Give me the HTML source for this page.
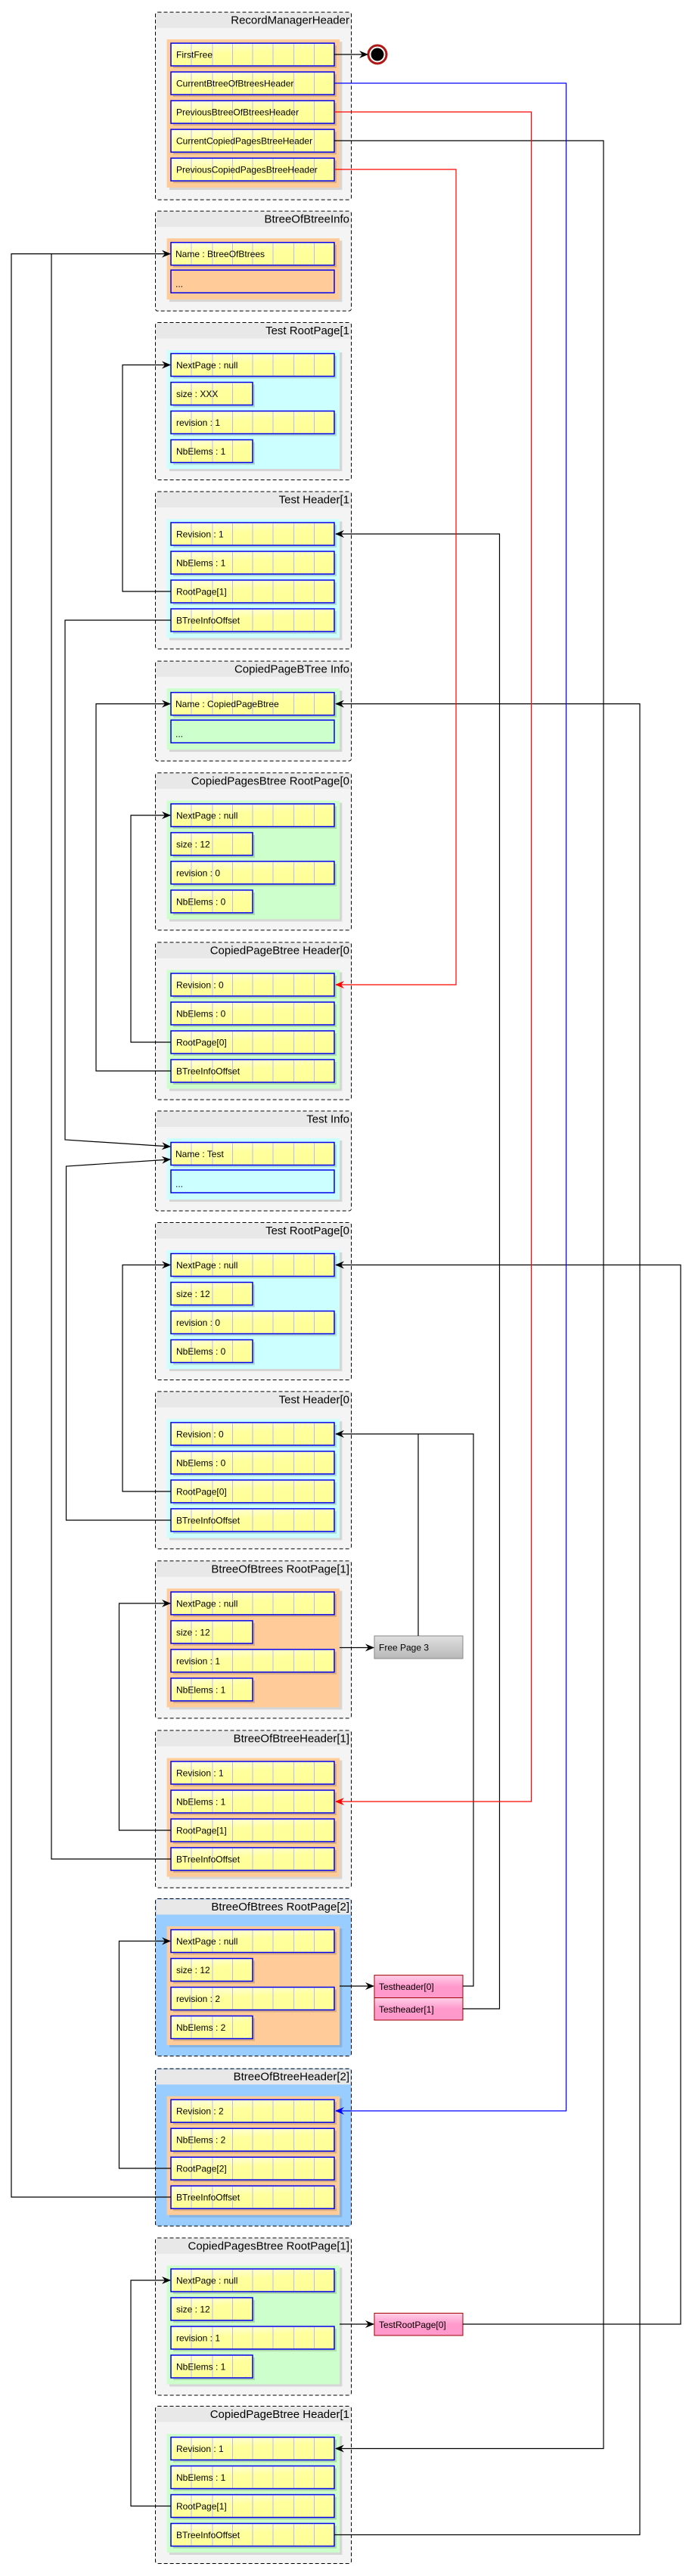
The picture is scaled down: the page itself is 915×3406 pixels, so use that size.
<!DOCTYPE html>
<html><head><meta charset="utf-8"><style>html,body{margin:0;padding:0;background:#fff}svg{display:block}text{font-family:"Liberation Sans Narrow","Liberation Sans",sans-serif}</style></head><body>
<svg width="915" height="3406" viewBox="0 0 915 3406" xmlns="http://www.w3.org/2000/svg">
<defs>
<linearGradient id="yg" x1="0" y1="0" x2="0.3" y2="1"><stop offset="0" stop-color="#ffffe6"/><stop offset="0.5" stop-color="#ffff9c"/><stop offset="1" stop-color="#ffff99"/></linearGradient>
<linearGradient id="gg" x1="0" y1="0" x2="0" y2="1"><stop offset="0" stop-color="#e0e0e0"/><stop offset="1" stop-color="#b8b8b8"/></linearGradient>
<linearGradient id="pg" x1="0" y1="0" x2="0" y2="1"><stop offset="0" stop-color="#ffd0e8"/><stop offset="0.5" stop-color="#ff99cc"/><stop offset="1" stop-color="#ff99cc"/></linearGradient>
<marker id="ak" markerWidth="12" markerHeight="10" refX="11" refY="5" orient="auto" markerUnits="userSpaceOnUse"><path d="M0,0 L12,5 L0,10 L4,5 z" fill="#000"/></marker>
<marker id="ar" markerWidth="12" markerHeight="10" refX="11" refY="5" orient="auto" markerUnits="userSpaceOnUse"><path d="M0,0 L12,5 L0,10 L4,5 z" fill="#f00"/></marker>
<marker id="ab" markerWidth="12" markerHeight="10" refX="11" refY="5" orient="auto" markerUnits="userSpaceOnUse"><path d="M0,0 L12,5 L0,10 L4,5 z" fill="#00f"/></marker>
<g id="ff"><rect x="229" y="3" width="216" height="30" fill="#000" opacity="0.15"/><rect x="226" y="0" width="216" height="30" fill="url(#yg)" stroke="#0000ee" stroke-width="1.5"/><path d="M253,1V29M281,1V29M307.5,1V29M334,1V29M361,1V29M388.6,1V29M415.5,1V29" stroke="#b8b8ff" stroke-width="1"/></g>
<g id="hf"><rect x="229" y="3" width="108" height="30" fill="#000" opacity="0.15"/><rect x="226" y="0" width="108" height="30" fill="url(#yg)" stroke="#0000ee" stroke-width="1.5"/><path d="M253,1V29M281,1V29M307.5,1V29" stroke="#b8b8ff" stroke-width="1"/></g>
<g id="fr4"><rect x="205.5" y="0.5" width="259" height="208" rx="3" fill="#f4f4f4" stroke="#000" stroke-dasharray="5,3"/><rect x="206.5" y="1.5" width="257" height="20" fill="#e8e8e8"/></g>
<g id="fr4b"><rect x="205.5" y="0.5" width="259" height="208" rx="3" fill="#99ccff" stroke="#000" stroke-dasharray="5,3"/><rect x="206.5" y="1.5" width="257" height="20" fill="#e8e8e8"/></g>
<g id="fri"><rect x="205.5" y="0.5" width="259" height="132" rx="3" fill="#f4f4f4" stroke="#000" stroke-dasharray="5,3"/><rect x="206.5" y="1.5" width="257" height="20" fill="#e8e8e8"/></g>
<rect id="psh4" x="224" y="40" width="228.4" height="157" fill="#000" opacity="0.12"/>
<rect id="pshi" x="224" y="39.5" width="228.4" height="81" fill="#000" opacity="0.12"/>
</defs>
<g font-size="12" fill="#000">

<!-- Record Manager Header -->
<g transform="translate(0,15.6)">
<rect x="205.5" y="0.5" width="259" height="248" rx="3" fill="#f4f4f4" stroke="#000" stroke-dasharray="5,3"/><rect x="206.5" y="1.5" width="257" height="20" fill="#e8e8e8"/>
<text x="462" y="16" font-size="15" text-anchor="end">RecordManagerHeader</text>
<rect x="224" y="39.5" width="228.4" height="196" fill="#000" opacity="0.12"/>
<rect x="220.6" y="36.5" width="228.4" height="196" fill="#ffcc99"/>
<use href="#ff" y="41.5"/><text x="233" y="61">FirstFree</text>
<use href="#ff" y="79.5"/><text x="233" y="99">CurrentBtreeOfBtreesHeader</text>
<use href="#ff" y="117.5"/><text x="233" y="137">PreviousBtreeOfBtreesHeader</text>
<use href="#ff" y="155.5"/><text x="233" y="175">CurrentCopiedPagesBtreeHeader</text>
<use href="#ff" y="193.5"/><text x="233" y="213">PreviousCopiedPagesBtreeHeader</text>
</g>
<circle cx="499" cy="72" r="12" fill="#fff" stroke="#b01818" stroke-width="3"/><circle cx="499" cy="72" r="8.5" fill="#000"/>

<!-- BtreeOfBtreeInfo -->
<g transform="translate(0,278.6)"><use href="#fri"/><text x="462" y="16" font-size="15" text-anchor="end">BtreeOfBtreeInfo</text>
<use href="#pshi"/><rect x="220.6" y="36.5" width="228.4" height="81" fill="#ffcc99"/>
<use href="#ff" y="42"/><text x="232" y="61.5">Name : BtreeOfBtrees</text>
<rect x="226" y="78.5" width="216" height="30" fill="#ffcc99" stroke="#0000ee" stroke-width="1.5"/><text x="232" y="101">...</text></g>

<!-- Test RootPage[1] -->
<g transform="translate(0,426)"><use href="#fr4"/><text x="462" y="16" font-size="15" text-anchor="end">Test RootPage[1</text>
<use href="#psh4"/><rect x="220.6" y="37" width="228.4" height="157" fill="#ccffff"/>
<use href="#ff" y="41.5"/><text x="233" y="61">NextPage : null</text>
<use href="#hf" y="79.5"/><text x="233" y="99">size : XXX</text>
<use href="#ff" y="117.5"/><text x="233" y="137">revision : 1</text>
<use href="#hf" y="155.5"/><text x="233" y="175">NbElems : 1</text></g>

<!-- Test Header[1] -->
<g transform="translate(0,649.5)"><use href="#fr4"/><text x="462" y="16" font-size="15" text-anchor="end">Test Header[1</text>
<use href="#psh4"/><rect x="220.6" y="37" width="228.4" height="157" fill="#ccffff"/>
<use href="#ff" y="41.5"/><text x="233" y="61">Revision : 1</text>
<use href="#ff" y="79.5"/><text x="233" y="99">NbElems : 1</text>
<use href="#ff" y="117.5"/><text x="233" y="137">RootPage[1]</text>
<use href="#ff" y="155.5"/><text x="233" y="175">BTreeInfoOffset</text></g>

<!-- CopiedPageBTree Info -->
<g transform="translate(0,873.6)"><use href="#fri"/><text x="462" y="16" font-size="15" text-anchor="end">CopiedPageBTree Info</text>
<use href="#pshi"/><rect x="220.6" y="36.5" width="228.4" height="81" fill="#ccffcc"/>
<use href="#ff" y="42"/><text x="232" y="61.5">Name : CopiedPageBtree</text>
<rect x="226" y="78.5" width="216" height="30" fill="#ccffcc" stroke="#0000ee" stroke-width="1.5"/><text x="232" y="101">...</text></g>

<!-- CopiedPagesBtree RootPage[0] -->
<g transform="translate(0,1021.4)"><use href="#fr4"/><text x="462" y="16" font-size="15" text-anchor="end">CopiedPagesBtree RootPage[0</text>
<use href="#psh4"/><rect x="220.6" y="37" width="228.4" height="157" fill="#ccffcc"/>
<use href="#ff" y="41.5"/><text x="233" y="61">NextPage : null</text>
<use href="#hf" y="79.5"/><text x="233" y="99">size : 12</text>
<use href="#ff" y="117.5"/><text x="233" y="137">revision : 0</text>
<use href="#hf" y="155.5"/><text x="233" y="175">NbElems : 0</text></g>

<!-- CopiedPageBtree Header[0] -->
<g transform="translate(0,1245.5)"><use href="#fr4"/><text x="462" y="16" font-size="15" text-anchor="end">CopiedPageBtree Header[0</text>
<use href="#psh4"/><rect x="220.6" y="37" width="228.4" height="157" fill="#ccffcc"/>
<use href="#ff" y="41.5"/><text x="233" y="61">Revision : 0</text>
<use href="#ff" y="79.5"/><text x="233" y="99">NbElems : 0</text>
<use href="#ff" y="117.5"/><text x="233" y="137">RootPage[0]</text>
<use href="#ff" y="155.5"/><text x="233" y="175">BTreeInfoOffset</text></g>

<!-- Test Info -->
<g transform="translate(0,1468.5)"><use href="#fri"/><text x="462" y="16" font-size="15" text-anchor="end">Test Info</text>
<use href="#pshi"/><rect x="220.6" y="36.5" width="228.4" height="81" fill="#ccffff"/>
<use href="#ff" y="42"/><text x="232" y="61.5">Name : Test</text>
<rect x="226" y="78.5" width="216" height="30" fill="#ccffff" stroke="#0000ee" stroke-width="1.5"/><text x="232" y="101">...</text></g>

<!-- Test RootPage[0] -->
<g transform="translate(0,1616)"><use href="#fr4"/><text x="462" y="16" font-size="15" text-anchor="end">Test RootPage[0</text>
<use href="#psh4"/><rect x="220.6" y="37" width="228.4" height="157" fill="#ccffff"/>
<use href="#ff" y="41.5"/><text x="233" y="61">NextPage : null</text>
<use href="#hf" y="79.5"/><text x="233" y="99">size : 12</text>
<use href="#ff" y="117.5"/><text x="233" y="137">revision : 0</text>
<use href="#hf" y="155.5"/><text x="233" y="175">NbElems : 0</text></g>

<!-- Test Header[0] -->
<g transform="translate(0,1839.4)"><use href="#fr4"/><text x="462" y="16" font-size="15" text-anchor="end">Test Header[0</text>
<use href="#psh4"/><rect x="220.6" y="37" width="228.4" height="157" fill="#ccffff"/>
<use href="#ff" y="41.5"/><text x="233" y="61">Revision : 0</text>
<use href="#ff" y="79.5"/><text x="233" y="99">NbElems : 0</text>
<use href="#ff" y="117.5"/><text x="233" y="137">RootPage[0]</text>
<use href="#ff" y="155.5"/><text x="233" y="175">BTreeInfoOffset</text></g>

<!-- BtreeOfBtrees RootPage[1] -->
<g transform="translate(0,2063.4)"><use href="#fr4"/><text x="462" y="16" font-size="15" text-anchor="end">BtreeOfBtrees RootPage[1]</text>
<use href="#psh4"/><rect x="220.6" y="37" width="228.4" height="157" fill="#ffcc99"/>
<use href="#ff" y="41.5"/><text x="233" y="61">NextPage : null</text>
<use href="#hf" y="79.5"/><text x="233" y="99">size : 12</text>
<use href="#ff" y="117.5"/><text x="233" y="137">revision : 1</text>
<use href="#hf" y="155.5"/><text x="233" y="175">NbElems : 1</text></g>

<!-- BtreeOfBtreeHeader[1] -->
<g transform="translate(0,2287.5)"><use href="#fr4"/><text x="462" y="16" font-size="15" text-anchor="end">BtreeOfBtreeHeader[1]</text>
<use href="#psh4"/><rect x="220.6" y="37" width="228.4" height="157" fill="#ffcc99"/>
<use href="#ff" y="41.5"/><text x="233" y="61">Revision : 1</text>
<use href="#ff" y="79.5"/><text x="233" y="99">NbElems : 1</text>
<use href="#ff" y="117.5"/><text x="233" y="137">RootPage[1]</text>
<use href="#ff" y="155.5"/><text x="233" y="175">BTreeInfoOffset</text></g>

<!-- BtreeOfBtrees RootPage[2] -->
<g transform="translate(0,2510)"><use href="#fr4b"/><text x="462" y="16" font-size="15" text-anchor="end">BtreeOfBtrees RootPage[2]</text>
<use href="#psh4"/><rect x="220.6" y="37" width="228.4" height="157" fill="#ffcc99"/>
<use href="#ff" y="41.5"/><text x="233" y="61">NextPage : null</text>
<use href="#hf" y="79.5"/><text x="233" y="99">size : 12</text>
<use href="#ff" y="117.5"/><text x="233" y="137">revision : 2</text>
<use href="#hf" y="155.5"/><text x="233" y="175">NbElems : 2</text></g>

<!-- BtreeOfBtreeHeader[2] -->
<g transform="translate(0,2734.7)"><use href="#fr4b"/><text x="462" y="16" font-size="15" text-anchor="end">BtreeOfBtreeHeader[2]</text>
<use href="#psh4"/><rect x="220.6" y="37" width="228.4" height="157" fill="#ffcc99"/>
<use href="#ff" y="41.5"/><text x="233" y="61">Revision : 2</text>
<use href="#ff" y="79.5"/><text x="233" y="99">NbElems : 2</text>
<use href="#ff" y="117.5"/><text x="233" y="137">RootPage[2]</text>
<use href="#ff" y="155.5"/><text x="233" y="175">BTreeInfoOffset</text></g>

<!-- CopiedPagesBtree RootPage[1] -->
<g transform="translate(0,2958.5)"><use href="#fr4"/><text x="462" y="16" font-size="15" text-anchor="end">CopiedPagesBtree RootPage[1]</text>
<use href="#psh4"/><rect x="220.6" y="37" width="228.4" height="157" fill="#ccffcc"/>
<use href="#ff" y="41.5"/><text x="233" y="61">NextPage : null</text>
<use href="#hf" y="79.5"/><text x="233" y="99">size : 12</text>
<use href="#ff" y="117.5"/><text x="233" y="137">revision : 1</text>
<use href="#hf" y="155.5"/><text x="233" y="175">NbElems : 1</text></g>

<!-- CopiedPageBtree Header[1] -->
<g transform="translate(0,3181)"><use href="#fr4"/><text x="462" y="16" font-size="15" text-anchor="end">CopiedPageBtree Header[1</text>
<use href="#psh4"/><rect x="220.6" y="37" width="228.4" height="157" fill="#ccffcc"/>
<use href="#ff" y="41.5"/><text x="233" y="61">Revision : 1</text>
<use href="#ff" y="79.5"/><text x="233" y="99">NbElems : 1</text>
<use href="#ff" y="117.5"/><text x="233" y="137">RootPage[1]</text>
<use href="#ff" y="155.5"/><text x="233" y="175">BTreeInfoOffset</text></g>

<!-- side boxes -->
<rect x="495" y="2163" width="117" height="30" fill="url(#gg)" stroke="#888"/><text x="501" y="2182.5">Free Page 3</text>
<rect x="495" y="2611.6" width="117" height="29.9" fill="url(#pg)" stroke="#a00000"/><text x="501" y="2631">Testheader[0]</text>
<rect x="495" y="2641.5" width="117" height="29.5" fill="url(#pg)" stroke="#a00000"/><text x="501" y="2661">Testheader[1]</text>
<rect x="495" y="3058.5" width="117" height="29.5" fill="url(#pg)" stroke="#a00000"/><text x="501" y="3078">TestRootPage[0]</text>
</g>

<!-- connectors -->
<g fill="none" stroke="#000" stroke-width="1.2">
<path d="M442,72 H486" marker-end="url(#ak)"/>
<path d="M442,186 H798 V3237.5 H444" marker-end="url(#ak)"/>
<path d="M226,2905 H15 V335.6 H225" marker-end="url(#ak)"/>
<path d="M226,2458 H68 V335.6"/>
<path d="M226,782 H162 V482.5 H225" marker-end="url(#ak)"/>
<path d="M226,820 H86 V1507 L225,1516" marker-end="url(#ak)"/>
<path d="M226,2010 H87.5 V1542 L225,1533" marker-end="url(#ak)"/>
<path d="M612,2656 H660.5 V706 H444" marker-end="url(#ak)"/>
<path d="M612,2626 H626 V1896 H444" marker-end="url(#ak)"/>
<path d="M553,2163 V1896"/>
<path d="M449,2178.5 H494" marker-end="url(#ak)"/>
<path d="M449,2626 H494" marker-end="url(#ak)"/>
<path d="M449,3073 H494" marker-end="url(#ak)"/>
<path d="M612,3073 H900 V1672.5 H444" marker-end="url(#ak)"/>
<path d="M226,1416 H127 V930.6 H225" marker-end="url(#ak)"/>
<path d="M442,3351.5 H846 V930.6 H444" marker-end="url(#ak)"/>
<path d="M226,1378 H173 V1078 H225" marker-end="url(#ak)"/>
<path d="M226,1972 H162 V1672.5 H225" marker-end="url(#ak)"/>
<path d="M226,2420 H157.5 V2120 H225" marker-end="url(#ak)"/>
<path d="M226,2867 H157.5 V2566.5 H225" marker-end="url(#ak)"/>
<path d="M226,3313.5 H173 V3015 H225" marker-end="url(#ak)"/>
</g>
<g fill="none" stroke-width="1.2">
<path d="M442,110 H748.6 V2791 H444" stroke="#0000ff" marker-end="url(#ab)"/>
<path d="M442,148 H702.5 V2382 H444" stroke="#ff0000" marker-end="url(#ar)"/>
<path d="M442,224 H603 V1302 H444" stroke="#ff0000" marker-end="url(#ar)"/>
</g>
</svg>
</body></html>
